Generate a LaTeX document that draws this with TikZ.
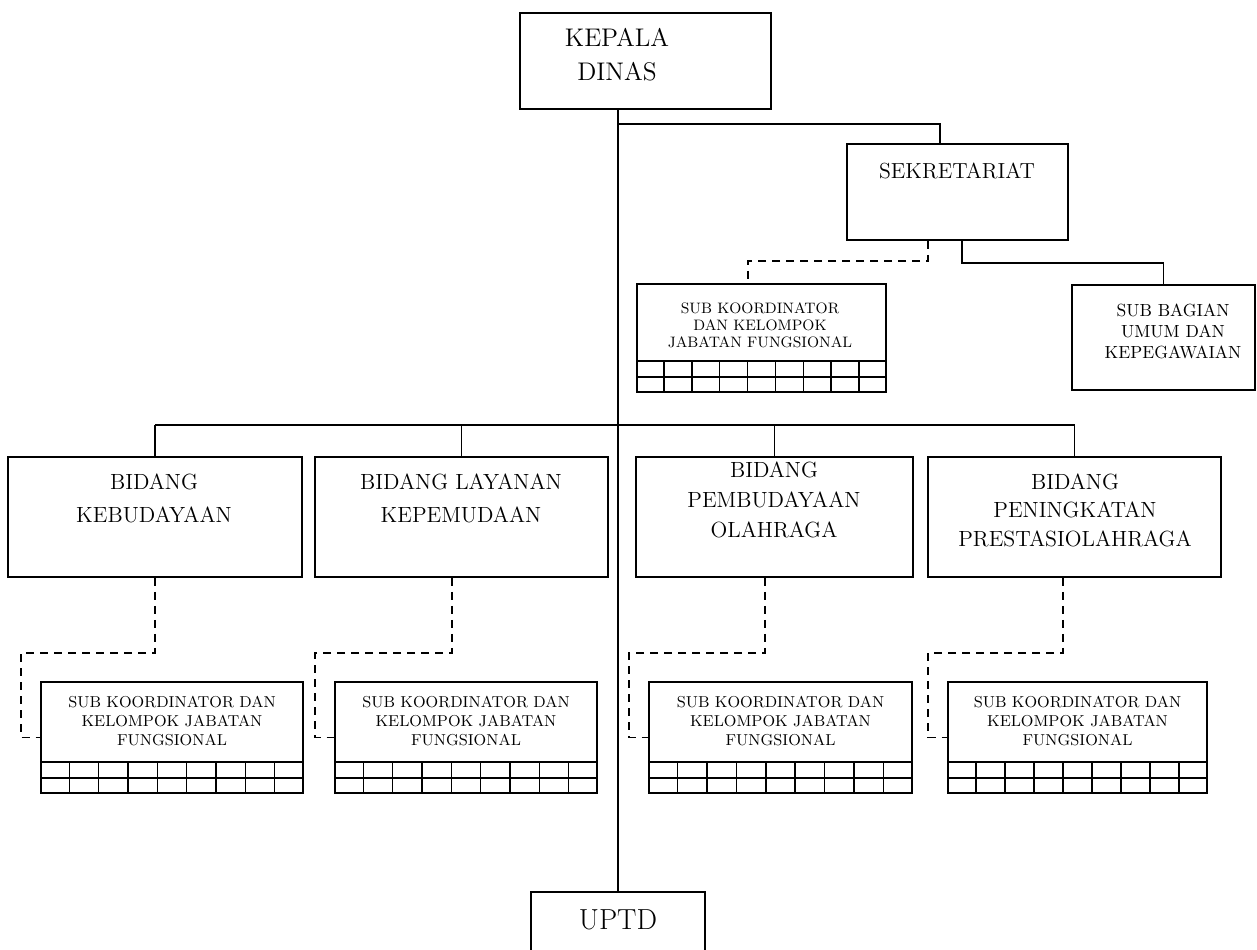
\documentclass[tikz,border=0pt]{standalone}
\usepackage{fontspec}
\usetikzlibrary{calc}

% two rows of nine small cells at the bottom of a box
\newcommand{\cellgrid}[1]{%
  \draw ([yshift=6.4mm]#1.south west) -- ([yshift=6.4mm]#1.south east);
  \draw ([yshift=3.2mm]#1.south west) -- ([yshift=3.2mm]#1.south east);
  \foreach \k in {1,...,8}
    \draw ($(#1.south west)!\k/9!(#1.south east)$) -- ++(0,-32);
}

\begin{document}
\begin{tikzpicture}[x=0.2mm, y=-0.2mm, line width=0.9pt,
  box/.style={draw, rectangle, inner sep=0pt, line width=1.1pt},
  txt/.style={align=center, inner sep=0pt},
  dashln/.style={dash pattern=on 1.6mm off 1.2mm, line width=1pt}]
  \useasboundingbox (0,0) rectangle (1257,949);

  % boxes
  \node[box, minimum width=50.2mm, minimum height=19.2mm] (kd) at (645.5,61) {};
  \node[box, minimum width=44.2mm, minimum height=19.2mm] (sek) at (957.5,192) {};
  \node[box, minimum width=49.8mm, minimum height=21.6mm] (sks) at (761.5,338) {};
  \node[box, minimum width=36.6mm, minimum height=21mm] (sbu) at (1163.5,337.5) {};
  \node[box, minimum width=58.8mm, minimum height=24mm] (b1) at (155,517) {};
  \node[box, minimum width=58.6mm, minimum height=24mm] (b2) at (461.5,517) {};
  \node[box, minimum width=55.4mm, minimum height=24mm] (b3) at (774.5,517) {};
  \node[box, minimum width=58.6mm, minimum height=24mm] (b4) at (1074.5,517) {};
  \node[box, minimum width=52.4mm, minimum height=22.2mm] (sk1) at (172,737.5) {};
  \node[box, minimum width=52.4mm, minimum height=22.2mm] (sk2) at (466,737.5) {};
  \node[box, minimum width=52.6mm, minimum height=22.2mm] (sk3) at (780.5,737.5) {};
  \node[box, minimum width=51.8mm, minimum height=22.2mm] (sk4) at (1077.5,737.5) {};
  \node[box, minimum width=34.8mm, minimum height=11.8mm] (uptd) at (618,921.5) {};

  % texts
  \node[txt, font=\fontsize{14.5}{19.4}\selectfont] (kdt) at (617,55) {KEPALA\\DINAS};
  \node[txt, font=\fontsize{12.4}{15}\selectfont] (sekt) at (957,170.5) {SEKRETARIAT};
  \node[txt, font=\fontsize{8.6}{9.7}\selectfont] (skst) at (760,325) {SUB KOORDINATOR\\DAN KELOMPOK\\JABATAN FUNGSIONAL};
  \node[txt, font=\fontsize{10}{12}\selectfont] (sbut) at (1173,331) {SUB BAGIAN\\UMUM DAN\\KEPEGAWAIAN};
  \node[txt, font=\fontsize{12.5}{18.8}\selectfont] (b1t) at (154,498.5) {BIDANG\\KEBUDAYAAN};
  \node[txt, font=\fontsize{12.5}{18.8}\selectfont] (b2t) at (461,498.5) {BIDANG LAYANAN\\KEPEMUDAAN};
  \node[txt, font=\fontsize{12.5}{17}\selectfont] (b3t) at (774,500) {BIDANG\\PEMBUDAYAAN\\OLAHRAGA};
  \node[txt, font=\fontsize{12.5}{16.2}\selectfont] (b4t) at (1075,510) {BIDANG\\PENINGKATAN\\PRESTASIOLAHRAGA};
  \foreach \s in {sk1,sk2,sk3,sk4}
    \node[txt, font=\fontsize{9}{10.8}\selectfont] (\s t) at ([yshift=3.3mm]\s.center) {SUB KOORDINATOR DAN\\KELOMPOK JABATAN\\FUNGSIONAL};
  \node[txt, font=\fontsize{16.5}{19}\selectfont] (uptdt) at (618,920) {UPTD};

  % cells
  \foreach \s in {sks,sk1,sk2,sk3,sk4} {\cellgrid{\s}}

  % lines
  \draw (uptd.north |- kd.south) -- (uptd.north);
  \draw (uptd.north |- kd.south) ++(0,14) -| ([xshift=-3.5mm]sek.north);
  \draw[dashln] ([xshift=-5.9mm]sek.south) -- ++(0,20) -| ([xshift=-2.7mm]sks.north);
  \draw ([xshift=0.9mm]sek.south) -- ++(0,22) -| (sbu.north);
  \coordinate (bus) at (0,425);
  \draw (b1.north |- bus) -- (b4.north |- bus);
  \foreach \b in {b1,b2,b3,b4}
    \draw (\b.north |- bus) -- (\b.north);
  \foreach \b/\s/\dx in {b1/sk1/0, b2/sk2/-1.9, b3/sk3/-1.9, b4/sk4/-2.3}
    \draw[dashln] ([xshift=\dx mm]\b.south) -- ++(0,75) -| ([xshift=-3.8mm]\s.west) -- (\s.west);
\end{tikzpicture}
\end{document}
